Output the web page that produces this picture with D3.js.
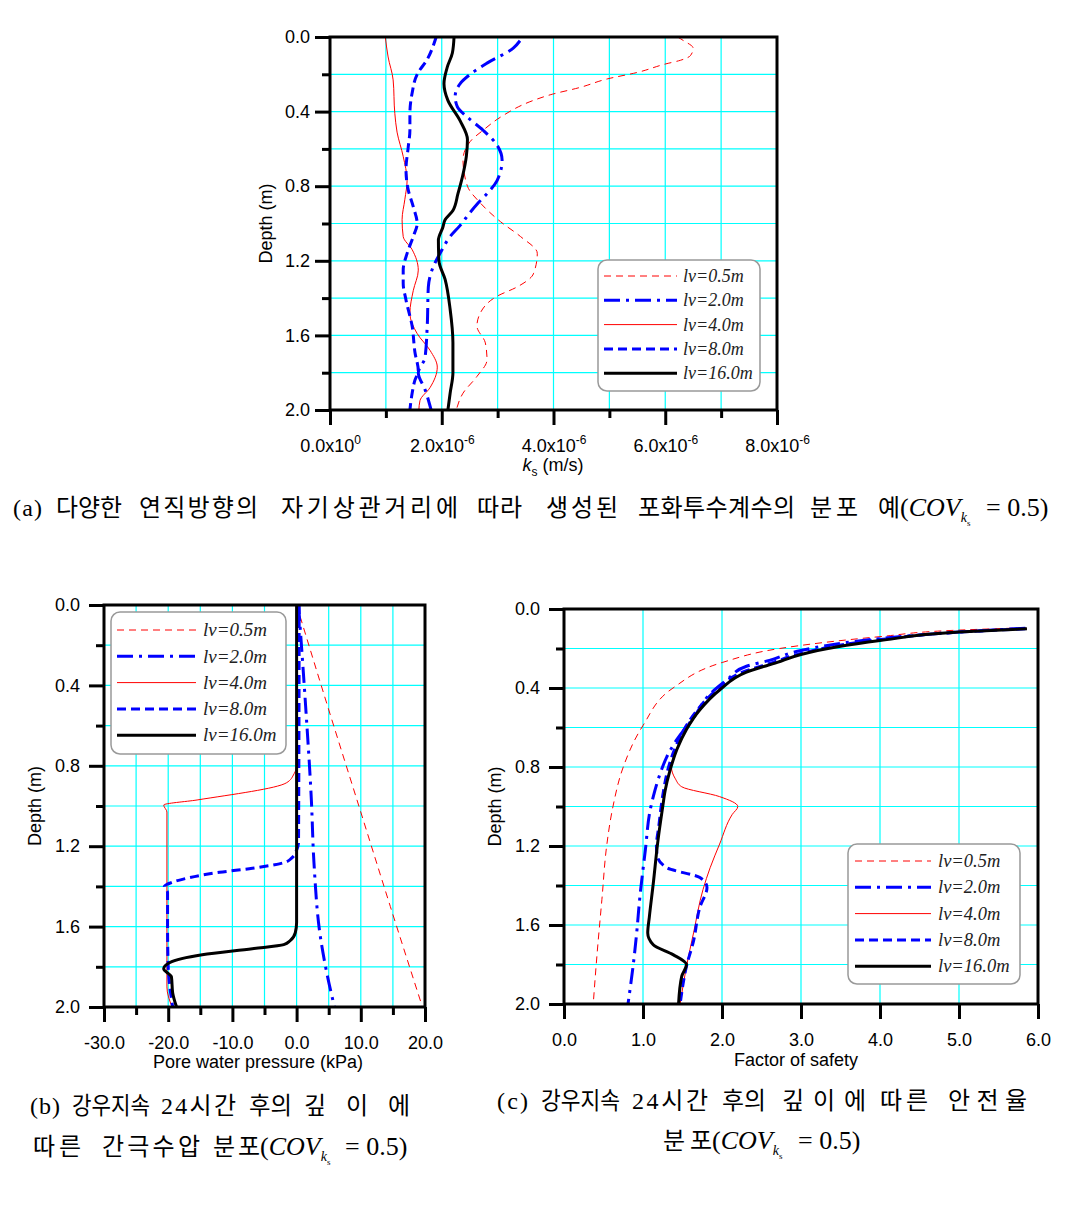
<!DOCTYPE html>
<html>
<head>
<meta charset="utf-8">
<script src="https://cdn.jsdelivr.net/npm/d3@7"></script>
<style>
  body { margin: 0; background: #fff; }
  svg { display: block; }
</style>
</head>
<body>
<script>
// legend labels (vertical autocorrelation distance)
var lvLabels = ["lv=0.5m", "lv=2.0m", "lv=4.0m", "lv=8.0m", "lv=16.0m"];

// (a) saturated permeability profiles: [depth (m), ks (x1e-6 m/s)]
var ksLv05 = [[0,6.22],[0.02,6.33],[0.06,6.5],[0.1,6.45],[0.125,6.27],[0.145,6.0],[0.19,5.5],[0.225,4.96],[0.27,4.48],[0.31,3.94],[0.34,3.64],[0.43,3.05],[0.5,2.74],[0.56,2.51],[0.66,2.38],[0.8,2.46],[0.89,2.69],[0.99,3.05],[1.07,3.41],[1.16,3.71],[1.27,3.64],[1.34,3.35],[1.39,2.99],[1.48,2.69],[1.55,2.63],[1.64,2.78],[1.73,2.81],[1.82,2.63],[1.91,2.38],[2.0,2.26]];
var ksLv2 = [[0.02,3.4],[0.06,3.28],[0.14,2.81],[0.2,2.51],[0.25,2.33],[0.32,2.24],[0.375,2.28],[0.43,2.46],[0.5,2.74],[0.58,2.99],[0.66,3.08],[0.77,2.99],[0.84,2.81],[0.89,2.65],[0.94,2.51],[1.01,2.33],[1.07,2.15],[1.16,1.97],[1.23,1.85],[1.34,1.76],[1.55,1.74],[1.72,1.7],[1.8,1.58],[1.89,1.7],[2.0,1.81]];
var ksLv4 = [[0,0.99],[0.107,1.04],[0.23,1.13],[0.41,1.16],[0.51,1.2],[0.64,1.31],[0.77,1.38],[0.87,1.34],[0.98,1.29],[1.07,1.31],[1.14,1.47],[1.25,1.58],[1.36,1.49],[1.48,1.43],[1.59,1.56],[1.68,1.79],[1.77,1.92],[1.88,1.79],[1.95,1.61],[2.0,1.59]];
var ksLv8 = [[0,1.9],[0.12,1.74],[0.2,1.56],[0.3,1.47],[0.41,1.43],[0.5,1.43],[0.59,1.4],[0.71,1.36],[0.82,1.4],[0.91,1.49],[1.0,1.56],[1.07,1.49],[1.16,1.38],[1.25,1.31],[1.32,1.31],[1.41,1.36],[1.55,1.47],[1.69,1.52],[1.79,1.58],[1.84,1.52],[1.91,1.47],[2.0,1.43]];
var ksLv16 = [[0,2.22],[0.086,2.19],[0.16,2.1],[0.25,2.04],[0.34,2.11],[0.45,2.33],[0.55,2.46],[0.64,2.44],[0.75,2.37],[0.84,2.29],[0.93,2.2],[0.98,2.06],[1.02,2.02],[1.09,1.94],[1.2,1.95],[1.3,2.06],[1.46,2.15],[1.64,2.2],[1.8,2.2],[1.91,2.15],[2.0,2.11]];

// (b) pore water pressure after 24 h of rainfall: [depth (m), kPa]
var pwpLv05 = [[0,0],[0.5,4.8],[1.0,9.7],[1.5,14.6],[2.0,19.6]];
var pwpLv2 = [[0,0.3],[0.5,1.4],[0.97,2.3],[1.28,2.7],[1.65,3.7],[1.83,4.7],[2.0,5.9]];
var pwpLv4 = [[0,0],[0.8,0],[0.84,-0.4],[0.885,-1.6],[0.97,-15.5],[0.995,-20.7],[1.03,-20.2],[1.9,-20.2],[2.0,-19.4]];
var pwpLv8 = [[0,0.4],[1.18,0.3],[1.22,0],[1.26,-0.8],[1.28,-1.8],[1.31,-6.9],[1.33,-12],[1.36,-17.2],[1.38,-19.4],[1.4,-20.6],[1.43,-20.1],[1.6,-20.1],[1.8,-20.0],[2.0,-19.3]];
var pwpLv16 = [[0,0],[1.58,0],[1.63,-0.2],[1.67,-1],[1.69,-2],[1.71,-6.9],[1.74,-14.7],[1.78,-19.8],[1.81,-20.7],[1.85,-19.5],[1.93,-19.3],[2.0,-18.7]];

// (c) factor of safety after 24 h of rainfall: [depth (m), FS]
var fsLv05 = [[0.095,5.84],[0.106,5.05],[0.14,4.0],[0.2,2.73],[0.27,2.01],[0.4,1.38],[0.59,1.0],[0.8,0.75],[1.0,0.62],[1.2,0.54],[1.47,0.48],[1.74,0.42],[2.0,0.37]];
var fsLv2 = [[0.097,5.84],[0.117,5.0],[0.15,4.0],[0.21,3.0],[0.26,2.6],[0.29,2.31],[0.36,2.06],[0.43,1.85],[0.55,1.64],[0.66,1.43],[0.75,1.3],[0.83,1.22],[0.95,1.13],[1.02,1.09],[1.22,1.03],[1.46,0.96],[1.64,0.92],[1.79,0.88],[2.0,0.81]];
var fsLv4 = [[0.1,5.86],[0.117,5.0],[0.16,4.0],[0.23,3.0],[0.27,2.7],[0.32,2.31],[0.41,1.97],[0.51,1.72],[0.61,1.55],[0.71,1.43],[0.8,1.36],[0.86,1.41],[0.9,1.49],[0.95,1.97],[1.0,2.2],[1.04,2.13],[1.19,1.97],[1.31,1.85],[1.42,1.76],[1.64,1.64],[1.81,1.55],[2.0,1.47]];
var fsLv8 = [[0.1,5.84],[0.117,5.0],[0.155,4.0],[0.225,3.0],[0.27,2.65],[0.32,2.26],[0.41,1.93],[0.51,1.69],[0.61,1.52],[0.71,1.4],[0.82,1.31],[0.92,1.26],[1.0,1.23],[1.1,1.2],[1.2,1.17],[1.25,1.18],[1.31,1.3],[1.36,1.72],[1.41,1.81],[1.51,1.72],[1.68,1.64],[1.81,1.55],[2.0,1.47]];
var fsLv16 = [[0.1,5.86],[0.117,5.0],[0.16,4.0],[0.23,3.0],[0.27,2.7],[0.32,2.31],[0.41,1.97],[0.51,1.72],[0.61,1.55],[0.71,1.43],[0.82,1.34],[0.92,1.28],[1.0,1.25],[1.17,1.19],[1.39,1.13],[1.56,1.08],[1.64,1.06],[1.7,1.13],[1.75,1.38],[1.8,1.55],[1.86,1.49],[2.0,1.45]];

// depth axis ticks (shared)
var depthMajor = [0, 0.4, 0.8, 1.2, 1.6, 2.0];
var depthMinor = [0.2, 0.6, 1.0, 1.4, 1.8];
var depthGrid = [0.2, 0.4, 0.6, 0.8, 1.0, 1.2, 1.4, 1.6, 1.8];

// line styles for lv = 0.5, 2, 4, 8, 16
var styles = [
  { color: "#ff0000", width: 1, dash: "7,5" },
  { color: "#0000ff", width: 3, dash: "16,6,3,6" },
  { color: "#ff0000", width: 1, dash: null },
  { color: "#0000ff", width: 3, dash: "9,5" },
  { color: "#000000", width: 3, dash: null }
];
var drawOrder = [0, 2, 1, 3, 4];
var gridColor = "#00ffff";
var sansFont = "'Liberation Sans', Arial, sans-serif";
var serifFont = "'Liberation Serif', 'Times New Roman', serif";
var capFont = "'Liberation Serif', 'Noto Sans CJK KR', serif";

var svg = d3.select("body").append("svg")
    .attr("width", 1069)
    .attr("height", 1209);

function drawPanel(p) {
    var x = d3.scaleLinear().domain(p.xDomain).range([p.left, p.right]);
    var y = d3.scaleLinear().domain([0, 2]).range([p.top, p.bottom]);
    var g = svg.append("g");

    // grid
    g.append("g").selectAll("line").data(p.xGrid).enter().append("line")
        .attr("x1", function(d) { return x(d); })
        .attr("x2", function(d) { return x(d); })
        .attr("y1", p.top).attr("y2", p.bottom)
        .attr("stroke", gridColor).attr("stroke-width", 1.2);
    g.append("g").selectAll("line").data(depthGrid).enter().append("line")
        .attr("x1", p.left).attr("x2", p.right)
        .attr("y1", function(d) { return y(d); })
        .attr("y2", function(d) { return y(d); })
        .attr("stroke", gridColor).attr("stroke-width", 1.2);

    // curves
    var line = d3.line()
        .x(function(d) { return x(d[1]); })
        .y(function(d) { return y(d[0]); })
        .curve(d3.curveMonotoneY);
    drawOrder.forEach(function(i) {
        var s = styles[i];
        g.append("path")
            .attr("d", line(p.series[i]))
            .attr("fill", "none")
            .attr("stroke", s.color)
            .attr("stroke-width", s.width)
            .attr("stroke-dasharray", s.dash);
    });

    // frame
    g.append("rect")
        .attr("x", p.left).attr("y", p.top)
        .attr("width", p.right - p.left).attr("height", p.bottom - p.top)
        .attr("fill", "none").attr("stroke", "#000").attr("stroke-width", 3);

    // x axis
    var xa = g.append("g").attr("transform", "translate(0," + p.bottom + ")")
        .call(d3.axisBottom(x).tickValues(p.xMajor).tickSize(15).tickPadding(14)
            .tickFormat(p.xFormat || function(d) { return d.toFixed(1); }));
    if (p.xMinor.length) {
        g.append("g").attr("transform", "translate(0," + p.bottom + ")")
            .call(d3.axisBottom(x).tickValues(p.xMinor).tickSize(8).tickFormat(""))
            .call(function(a) { a.select(".domain").remove(); a.selectAll("line").attr("stroke-width", 3); });
    }
    xa.select(".domain").remove();
    xa.selectAll("line").attr("stroke-width", 3);
    xa.attr("font-size", 18).attr("font-family", sansFont);

    // y axis
    var ya = g.append("g").attr("transform", "translate(" + p.left + ",0)")
        .call(d3.axisLeft(y).tickValues(depthMajor).tickSize(15).tickPadding(p.yPad)
            .tickFormat(function(d) { return d.toFixed(1); }));
    ya.select(".domain").remove();
    ya.selectAll("line").attr("stroke-width", 3);
    ya.attr("font-size", 18).attr("font-family", sansFont);
    g.append("g").attr("transform", "translate(" + p.left + ",0)")
        .call(d3.axisLeft(y).tickValues(depthMinor).tickSize(8).tickFormat(""))
        .call(function(a) { a.select(".domain").remove(); a.selectAll("line").attr("stroke-width", 3); });

    // axis titles
    svg.append("text")
        .attr("transform", "translate(" + p.yTitleX + "," + ((p.top + p.bottom) / 2) + ") rotate(-90)")
        .attr("text-anchor", "middle").attr("dy", "0.35em")
        .attr("font-family", sansFont).attr("font-size", 18)
        .text("Depth (m)");

    // legend
    var L = p.legend;
    var lg = svg.append("g");
    lg.append("rect")
        .attr("x", L.x).attr("y", L.y).attr("width", L.w).attr("height", L.h)
        .attr("rx", 9).attr("ry", 9)
        .attr("fill", "#fff").attr("stroke", "#999").attr("stroke-width", 1.5);
    lvLabels.forEach(function(lab, i) {
        var s = styles[i];
        var ry = L.row0 + i * L.step;
        lg.append("line")
            .attr("x1", L.lx1).attr("x2", L.lx2).attr("y1", ry).attr("y2", ry)
            .attr("stroke", s.color).attr("stroke-width", s.width)
            .attr("stroke-dasharray", s.dash);
        lg.append("text")
            .attr("x", L.tx).attr("y", ry).attr("dy", "0.33em")
            .attr("font-family", serifFont).attr("font-style", "italic")
            .attr("font-size", L.fs).attr("fill", "#222")
            .text(lab);
    });

    return { x: x, y: y, xa: xa };
}

// ---- (a) ----
var pa = drawPanel({
    left: 330, right: 777, top: 37, bottom: 410,
    xDomain: [0, 8], xMajor: [0, 2, 4, 6, 8], xMinor: [1, 3, 5, 7], xGrid: [1, 2, 3, 4, 5, 6, 7],
    xFormat: function() { return ""; }, yPad: 5, yTitleX: 266,
    series: [ksLv05, ksLv2, ksLv4, ksLv8, ksLv16],
    legend: { x: 598, y: 260, w: 162, h: 131, row0: 276, step: 24.3, lx1: 604, lx2: 677, tx: 683, fs: 18 }
});
pa.xa.selectAll(".tick").append("text")
    .attr("y", 42).attr("text-anchor", "middle").attr("fill", "#000")
    .each(function(d) {
        var t = d3.select(this);
        t.append("tspan").text(d.toFixed(1) + "x10");
        t.append("tspan").attr("font-size", 12).attr("dy", -8).text(d === 0 ? "0" : "-6");
    });
var ta = svg.append("text").attr("x", 553).attr("y", 471).attr("text-anchor", "middle")
    .attr("font-family", sansFont).attr("font-size", 18);
ta.append("tspan").attr("font-style", "italic").text("k");
ta.append("tspan").attr("font-size", 12).attr("dy", 5).text("s");
ta.append("tspan").attr("dy", -5).text(" (m/s)");

// ---- (b) ----
drawPanel({
    left: 104, right: 425, top: 605, bottom: 1007,
    xDomain: [-30, 20], xMajor: [-30, -20, -10, 0, 10, 20], xMinor: [-25, -15, -5, 5, 15],
    xGrid: [-25, -20, -15, -10, -5, 0, 5, 10, 15], yPad: 9, yTitleX: 35,
    series: [pwpLv05, pwpLv2, pwpLv4, pwpLv8, pwpLv16],
    legend: { x: 111, y: 612, w: 175, h: 142, row0: 630, step: 26.3, lx1: 117, lx2: 196, tx: 203, fs: 19 }
});
svg.append("text").attr("x", 258).attr("y", 1068).attr("text-anchor", "middle")
    .attr("font-family", sansFont).attr("font-size", 18)
    .text("Pore water pressure (kPa)");

// ---- (c) ----
drawPanel({
    left: 564, right: 1038, top: 609, bottom: 1004,
    xDomain: [0, 6], xMajor: [0, 1, 2, 3, 4, 5, 6], xMinor: [], xGrid: [1, 2, 3, 4, 5],
    yPad: 9, yTitleX: 495,
    series: [fsLv05, fsLv2, fsLv4, fsLv8, fsLv16],
    legend: { x: 848, y: 844, w: 172, h: 140, row0: 861, step: 26.3, lx1: 855, lx2: 931, tx: 938, fs: 18.5 }
});
svg.append("text").attr("x", 796).attr("y", 1066).attr("text-anchor", "middle")
    .attr("font-family", sansFont).attr("font-size", 18)
    .text("Factor of safety");

// ---- captions ----
// each word is fitted into its span; squeeze glyphs if too wide, spread letters if too narrow
function captionWords(words, baseY) {
    words.forEach(function(w) {
        var t = svg.append("text")
            .attr("x", w[1]).attr("y", baseY)
            .attr("font-family", capFont).attr("font-size", 24)
            .text(w[0]);
        var natural = t.node().getComputedTextLength();
        var target = w[2] - w[1];
        t.attr("textLength", target)
            .attr("lengthAdjust", natural > target ? "spacingAndGlyphs" : "spacing");
    });
}
function covLabel(xParen, xEq, baseY) {
    var t = svg.append("text").attr("x", xParen).attr("y", baseY)
        .attr("font-family", serifFont).attr("font-size", 26);
    t.append("tspan").text("(");
    t.append("tspan").attr("font-style", "italic").text("COV");
    t.append("tspan").attr("font-style", "italic").attr("font-size", 14).attr("dy", 6).text("k");
    t.append("tspan").attr("font-size", 9).attr("dy", 4).text("s");
    svg.append("text").attr("x", xEq).attr("y", baseY)
        .attr("font-family", serifFont).attr("font-size", 26)
        .text("= 0.5)");
}

captionWords([["(a)", 13, 42], ["다양한", 56, 122], ["연직방향의", 139, 258], ["자기상관거리에", 281, 458],
    ["따라", 477, 522], ["생성된", 546, 618], ["포화투수계수의", 638, 795], ["분포", 810, 858], ["예", 878, 900]], 516);
covLabel(900, 986, 516);

captionWords([["(b)", 30, 60], ["강우지속", 72, 150], ["24시간", 161, 236], ["후의", 249, 292], ["깊이에", 304, 410]], 1114);
captionWords([["따른", 33, 81], ["간극수압", 102, 200], ["분포", 213, 260]], 1155);
covLabel(260, 345, 1155);

captionWords([["(c)", 497, 528], ["강우지속", 541, 620], ["24시간", 632, 708], ["후의", 722, 766],
    ["깊이에", 782, 866], ["따른", 880, 928], ["안전율", 948, 1027]], 1109);
captionWords([["분포", 663, 712]], 1149);
covLabel(712, 798, 1149);
</script>
</body>
</html>
